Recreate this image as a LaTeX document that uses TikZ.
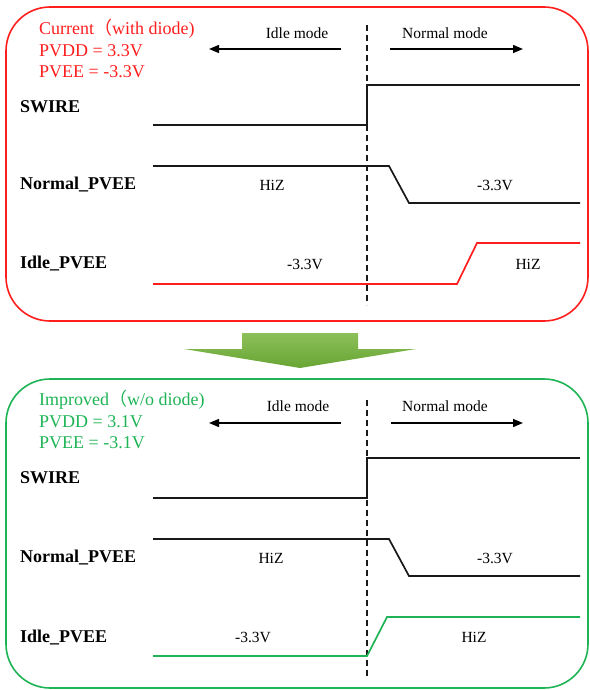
\documentclass[tikz,border=0pt]{standalone}
\usepackage{fontspec}
\setmainfont{Liberation Serif}
\newfontfamily\cjk{Noto Sans CJK SC}
\usetikzlibrary{arrows.meta}
\definecolor{cred}{RGB}{255,30,30}
\definecolor{cgreen}{RGB}{30,180,85}
\definecolor{sig}{RGB}{25,25,25}
\tikzset{
  frame/.style={line width=1.6pt, rounded corners=44pt},
  title/.style={anchor=west, inner sep=0pt, font=\fontsize{18}{21}\selectfont},
  modelbl/.style={inner sep=0pt, font=\fontsize{15.5}{18}\selectfont},
  siglbl/.style={anchor=west, inner sep=0pt, font=\fontsize{18}{21}\selectfont\bfseries},
  vallbl/.style={inner sep=0pt, font=\fontsize{15.5}{18}\selectfont},
  wave/.style={line width=1.7pt, sig},
  modearrow/.style={line width=1.4pt, -{Triangle[length=10pt,width=8pt]}},
  divider/.style={line width=1.6pt, sig, dash pattern=on 6pt off 4pt}
}
\begin{document}
\begin{tikzpicture}[x=1pt,y=-1pt]
\useasboundingbox (0,0) rectangle (589,690);
% ---------- top panel ----------
\draw[frame, cred] (6,7) rectangle (588,321);
\node[title, text=cred] (t1) at (39,29) {Current{\cjk （}with diode)};
\node[title, text=cred] (t2) at (39,51) {PVDD = 3.3V};
\node[title, text=cred] (t3) at (39,72) {PVEE = -3.3V};
\node[modelbl] (idle1) at (297,33) {Idle mode};
\node[modelbl] (norm1) at (445,33) {Normal mode};
\coordinate (ia1) at (341,49); \coordinate (ib1) at (209,49);
\coordinate (na1) at (390,49); \coordinate (nb1) at (523,49);
\draw[modearrow] (ia1) -- (ib1);
\draw[modearrow] (na1) -- (nb1);
\coordinate (d1a) at (367,25); \coordinate (d1b) at (367,305);
\draw[divider] (d1a) -- (d1b);
\node[siglbl] (sw1) at (20,107) {SWIRE};
\node[siglbl] (np1) at (20,185) {Normal\_PVEE};
\node[siglbl] (ip1) at (20,264) {Idle\_PVEE};
\coordinate (s1a) at (153,125); \coordinate (s1b) at (367,125);
\coordinate (s1c) at (367,85); \coordinate (s1d) at (580,85);
\draw[wave] (s1a) -- (s1b) -- (s1c) -- (s1d);
\coordinate (n1a) at (153,166); \coordinate (n1b) at (389,166);
\coordinate (n1c) at (409,203); \coordinate (n1d) at (580,203);
\draw[wave] (n1a) -- (n1b) -- (n1c) -- (n1d);
\coordinate (p1a) at (153,284); \coordinate (p1b) at (457,284);
\coordinate (p1c) at (477,243); \coordinate (p1d) at (580,243);
\draw[wave, cred] (p1a) -- (p1b) -- (p1c) -- (p1d);
\node[vallbl] (hz1) at (272,185) {HiZ};
\node[vallbl] (vn1) at (495,185) {-3.3V};
\node[vallbl] (vi1) at (305,264) {-3.3V};
\node[vallbl] (hi1) at (528,264) {HiZ};
% ---------- green arrow ----------
\shade[top color={rgb,255:red,140;green,192;blue,90}, bottom color={rgb,255:red,104;green,165;blue,52}]
  (242,333) -- (358,333) -- (358,349) -- (416,349) -- (300,368) -- (184,349) -- (242,349) -- cycle;
% ---------- bottom panel ----------
\draw[frame, cgreen] (6,379) rectangle (588,688);
\node[title, text=cgreen] (t4) at (39,400) {Improved{\cjk （}w/o diode)};
\node[title, text=cgreen] (t5) at (39,422) {PVDD = 3.1V};
\node[title, text=cgreen] (t6) at (39,443) {PVEE = -3.1V};
\node[modelbl] (idle2) at (298,406) {Idle mode};
\node[modelbl] (norm2) at (445,406) {Normal mode};
\coordinate (ia2) at (341,423); \coordinate (ib2) at (209,423);
\coordinate (na2) at (391,423); \coordinate (nb2) at (523,423);
\draw[modearrow] (ia2) -- (ib2);
\draw[modearrow] (na2) -- (nb2);
\coordinate (d2a) at (367,400); \coordinate (d2b) at (367,677);
\draw[divider] (d2a) -- (d2b);
\node[siglbl] (sw2) at (20,478) {SWIRE};
\node[siglbl] (np2) at (20,558) {Normal\_PVEE};
\node[siglbl] (ip2) at (20,637) {Idle\_PVEE};
\coordinate (s2a) at (153,498); \coordinate (s2b) at (367,498);
\coordinate (s2c) at (367,458); \coordinate (s2d) at (580,458);
\draw[wave] (s2a) -- (s2b) -- (s2c) -- (s2d);
\coordinate (n2a) at (153,539); \coordinate (n2b) at (389,539);
\coordinate (n2c) at (409,576); \coordinate (n2d) at (580,576);
\draw[wave] (n2a) -- (n2b) -- (n2c) -- (n2d);
\coordinate (p2a) at (153,656); \coordinate (p2b) at (367,656);
\coordinate (p2c) at (387,617); \coordinate (p2d) at (580,617);
\draw[wave, cgreen] (p2a) -- (p2b) -- (p2c) -- (p2d);
\node[vallbl] (hz2) at (271,558) {HiZ};
\node[vallbl] (vn2) at (495,558) {-3.3V};
\node[vallbl] (vi2) at (253,637) {-3.3V};
\node[vallbl] (hi2) at (474,637) {HiZ};
\end{tikzpicture}
\end{document}
